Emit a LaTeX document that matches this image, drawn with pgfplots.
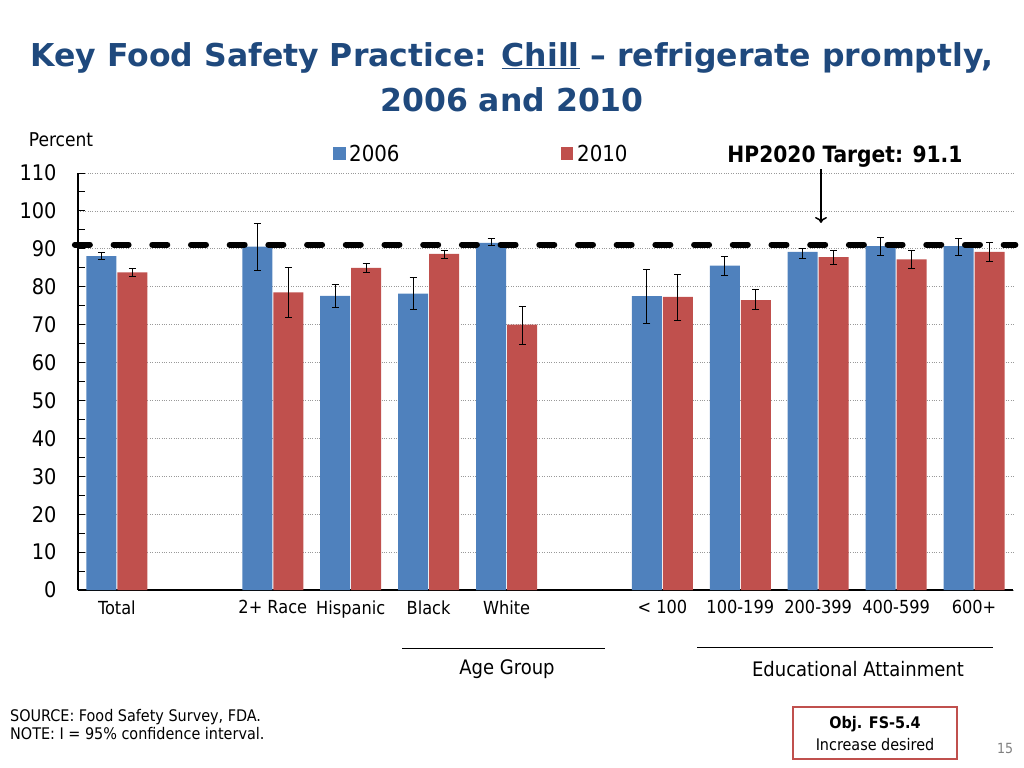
\documentclass[border=0pt]{standalone}
\usepackage{fontspec}
\setmainfont{DejaVu Sans Condensed}
\newfontfamily\titlefont{DejaVu Sans}
\usepackage{pgfplots}
\usepackage{pgfplotstable}
\usetikzlibrary{arrows.meta}
\pgfplotsset{compat=1.18}
\definecolor{barblue}{RGB}{79,129,189}
\definecolor{barred}{RGB}{192,80,77}
\definecolor{titleblue}{RGB}{31,73,125}
\definecolor{boxred}{RGB}{192,80,77}
\newcommand{\fs}[1]{\fontsize{#1bp}{#1bp}\selectfont}

\pgfplotstableread{
x y ep em
0 88.1 1.0 0.8
2 90.6 6.0 6.4
3 77.6 3.1 3.1
4 78.2 4.3 4.3
5 91.6 1.2 0.8
7 77.5 7.1 7.1
8 85.6 2.3 2.5
9 89.2 1.0 1.6
10 90.7 2.2 2.4
11 90.7 2.0 2.4
}\tsix

\pgfplotstableread{
x y ep em
0 83.8 1.1 1.2
2 78.5 6.6 6.5
3 85.0 1.1 1.2
4 88.7 0.9 1.2
5 70.0 4.9 5.2
7 77.3 6.0 6.1
8 76.5 2.7 2.5
9 87.8 1.8 1.9
10 87.2 2.3 2.3
11 89.2 2.5 2.5
}\tten

\begin{document}
\begin{tikzpicture}
\path[use as bounding box] (0,0) rectangle (1024bp,-768bp);
\begin{axis}[
  at={(78bp,-590bp)}, anchor=south west,
  scale only axis, width=935bp, height=417bp,
  xmin=-0.5, xmax=11.5, ymin=0, ymax=110,
  ybar=1bp, bar width=30bp,
  axis x line*=bottom, axis y line*=left,
  axis line style={-, black, line width=1.2bp},
  clip=false,
  ytick={0,10,...,110}, minor ytick={5,15,...,105},
  tick align=inside, major tick length=7bp, minor tick length=7bp,
  ytick style={black, line width=1bp},
  ymajorgrids, grid style={dotted, gray!80, line width=0.8bp},
  yticklabel style={font=\fs{21.5}, xshift=-18bp},
  /pgf/number format/assume math mode=true,
  xtick={0,2,3,4,5,7,8,9,10,11},
  xticklabels={Total,2+ Race,Hispanic,Black,White,< 100,100-199,200-399,400-599,600+},
  xtick style={draw=none},
  xticklabel style={font=\fs{18}, yshift=-7bp},
]
\addplot[fill=barblue, draw=none,
  error bars/.cd, y dir=both, y explicit,
  error bar style={black, line width=0.8bp},
  error mark options={black, line width=0.8bp, mark size=3.5bp, rotate=90}]
  table[x=x, y=y, y error plus=ep, y error minus=em]{\tsix};
\addplot[fill=barred, draw=none,
  error bars/.cd, y dir=both, y explicit,
  error bar style={black, line width=0.8bp},
  error mark options={black, line width=0.8bp, mark size=3.5bp, rotate=90}]
  table[x=x, y=y, y error plus=ep, y error minus=em]{\tten};
\addplot[sharp plot, black, line width=6bp, dash pattern=on 15bp off 23.7bp, line cap=round]
  coordinates {(-0.54,91.1) (11.53,91.1)};
\end{axis}

% title
\node[text=titleblue, font=\titlefont\bfseries\fs{31.5}] at (512bp,-58bp)
  {Key Food Safety Practice: \underline{Chill} \textendash{} refrigerate promptly,};
\node[text=titleblue, font=\titlefont\bfseries\fs{31.5}] at (512bp,-100bp)
  {2006 and 2010};
% y label
\node[font=\fs{19}] at (61bp,-140bp) {Percent};
% legend
\fill[barblue] (333bp,-147bp) rectangle (346bp,-160bp);
\node[anchor=west, font=\fs{22}, inner sep=0pt] at (349bp,-153bp) {2006};
\fill[barred] (561bp,-147bp) rectangle (573bp,-160bp);
\node[anchor=west, font=\fs{22}, inner sep=0pt] at (577bp,-153bp) {2010};
% target
\node[font=\bfseries\fs{22.5}] at (845bp,-157bp) {HP2020 Target: 91.1};
\draw[-{To[length=6bp,width=12bp,line width=1.5bp]}, line width=1.5bp] (821bp,-169bp) -- (821bp,-223bp);
% group lines
\draw[line width=1bp] (402bp,-648bp) -- (605bp,-648bp);
\draw[line width=1bp] (697bp,-647bp) -- (993bp,-647bp);
\node[font=\fs{20}] at (507bp,-669bp) {Age Group};
\node[font=\fs{20}] at (858bp,-669bp) {Educational Attainment};
% footer
\node[anchor=west, font=\fs{16}, inner sep=0pt] at (10bp,-717bp) {SOURCE: Food Safety Survey, FDA.};
\node[anchor=west, font=\fs{16}, inner sep=0pt] at (10bp,-734bp) {NOTE: I = 95\% confidence interval.};
\draw[boxred, line width=1.3bp] (793bp,-707bp) rectangle (957bp,-759bp);
\node[font=\bfseries\fs{16}] at (875bp,-724bp) {Obj. FS-5.4};
\node[font=\fs{16}] at (875bp,-745bp) {Increase desired};
\node[text=gray, font=\fs{14}] at (1005bp,-748bp) {15};
\end{tikzpicture}
\end{document}
